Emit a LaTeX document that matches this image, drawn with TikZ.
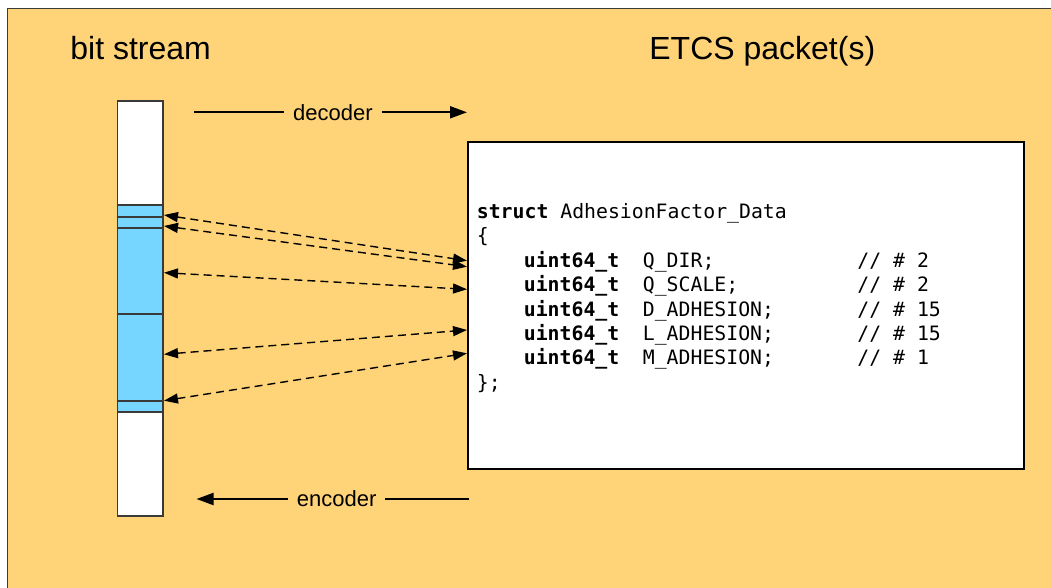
\documentclass[tikz,border=0pt]{standalone}
\usepackage{fontspec}
\setmainfont{Liberation Sans}
\setmonofont{DejaVu Sans Mono}
\usetikzlibrary{arrows.meta}
\definecolor{cantaloupe}{HTML}{FFD479}
\definecolor{sky}{HTML}{76D6FF}
\definecolor{frame}{HTML}{3A3A3A}

\begin{document}
\begin{tikzpicture}[x=0.5pt,y=-0.5pt,
    title/.style={anchor=base west,inner sep=0pt,font=\fontsize{16}{19}\selectfont},
    flow/.style={line width=1pt,-{Triangle[length=8.5pt,width=6pt]}},
    flowlabel/.style={font=\fontsize{11}{13}\selectfont,inner sep=4.2pt},
    bitlink/.style={line width=0.7pt,dash pattern=on 4pt off 2.5pt,
      {Triangle[length=7pt,width=5pt]}-{Triangle[length=7pt,width=5pt]}},
    code/.style={anchor=base west,inner sep=0pt,font=\ttfamily\fontsize{9.9}{12}\selectfont}]
  \useasboundingbox (0,0) rectangle (1051,588);
  \fill[cantaloupe] (7.5,8.5) rectangle (1051,588);
  \draw[frame,line width=0.8pt] (7.5,588) -- (7.5,8.5) -- (1051,8.5);

  \node[title] (bs) at (70,60) {bit stream};
  \node[title] (ep) at (649,60) {ETCS packet(s)};

  % bit stream
  \draw[frame,fill=white,line width=0.7pt] (117.3,101) rectangle (162.7,516);
  \fill[sky] (117.3,205) rectangle (162.7,412.3);
  \draw[frame,line width=0.8pt] (117.3,101) rectangle (162.7,516);
  \foreach \y in {205,216.7,227.7,314.3,400.7,412.3}
    \draw[frame,line width=0.9pt] (117.3,\y) -- (162.7,\y);

  % packet
  \draw[black,fill=white,line width=0.6pt] (468,142) rectangle (1024,469);

  \node[code] (s0) at (476.5,218.5) {\textbf{struct} AdhesionFactor\_Data};
  \node[code] (s1) at (476.5,242.9) {\{};
  \node[code] (k1) at (523.5,267.3) {\textbf{uint64\_t}};
  \node[code] (n1) at (642.5,267.3) {Q\_DIR;};
  \node[code] (c1) at (857,267.3) {// \# 2};
  \node[code] (k2) at (523.5,291.7) {\textbf{uint64\_t}};
  \node[code] (n2) at (642.5,291.7) {Q\_SCALE;};
  \node[code] (c2) at (857,291.7) {// \# 2};
  \node[code] (k3) at (523.5,316.1) {\textbf{uint64\_t}};
  \node[code] (n3) at (642.5,316.1) {D\_ADHESION;};
  \node[code] (c3) at (857,316.1) {// \# 15};
  \node[code] (k4) at (523.5,340.5) {\textbf{uint64\_t}};
  \node[code] (n4) at (642.5,340.5) {L\_ADHESION;};
  \node[code] (c4) at (857,340.5) {// \# 15};
  \node[code] (k5) at (523.5,364.9) {\textbf{uint64\_t}};
  \node[code] (n5) at (642.5,364.9) {M\_ADHESION;};
  \node[code] (c5) at (857,364.9) {// \# 1};
  \node[code] (s2) at (476.5,389.3) {\};};

  % decoder / encoder
  \node[flowlabel] (dec) at (333,112.3) {decoder};
  \coordinate (decL) at (194.3,112.3);
  \coordinate (decR) at (467,112.3);
  \draw[line width=1pt] (decL) -- (dec);
  \draw[flow] (dec) -- (decR);

  \node[flowlabel] (enc) at (336.7,499) {encoder};
  \coordinate (encL) at (196.5,499);
  \coordinate (encR) at (469,499);
  \draw[line width=1pt] (encR) -- (enc);
  \draw[flow] (enc) -- (encL);

  % field links
  \coordinate (b1) at (164,215);
  \coordinate (b2) at (164,226);
  \coordinate (b3) at (164,272.7);
  \coordinate (b4) at (164,354.3);
  \coordinate (b5) at (164,400.7);
  \coordinate (p1) at (467,260.7);
  \coordinate (p2) at (467,266.7);
  \coordinate (p3) at (467,289.3);
  \coordinate (p4) at (467,330);
  \coordinate (p5) at (467,353.3);
  \draw[bitlink] (b1) -- (p1);
  \draw[bitlink] (b2) -- (p2);
  \draw[bitlink] (b3) -- (p3);
  \draw[bitlink] (b4) -- (p4);
  \draw[bitlink] (b5) -- (p5);
\end{tikzpicture}
\end{document}
